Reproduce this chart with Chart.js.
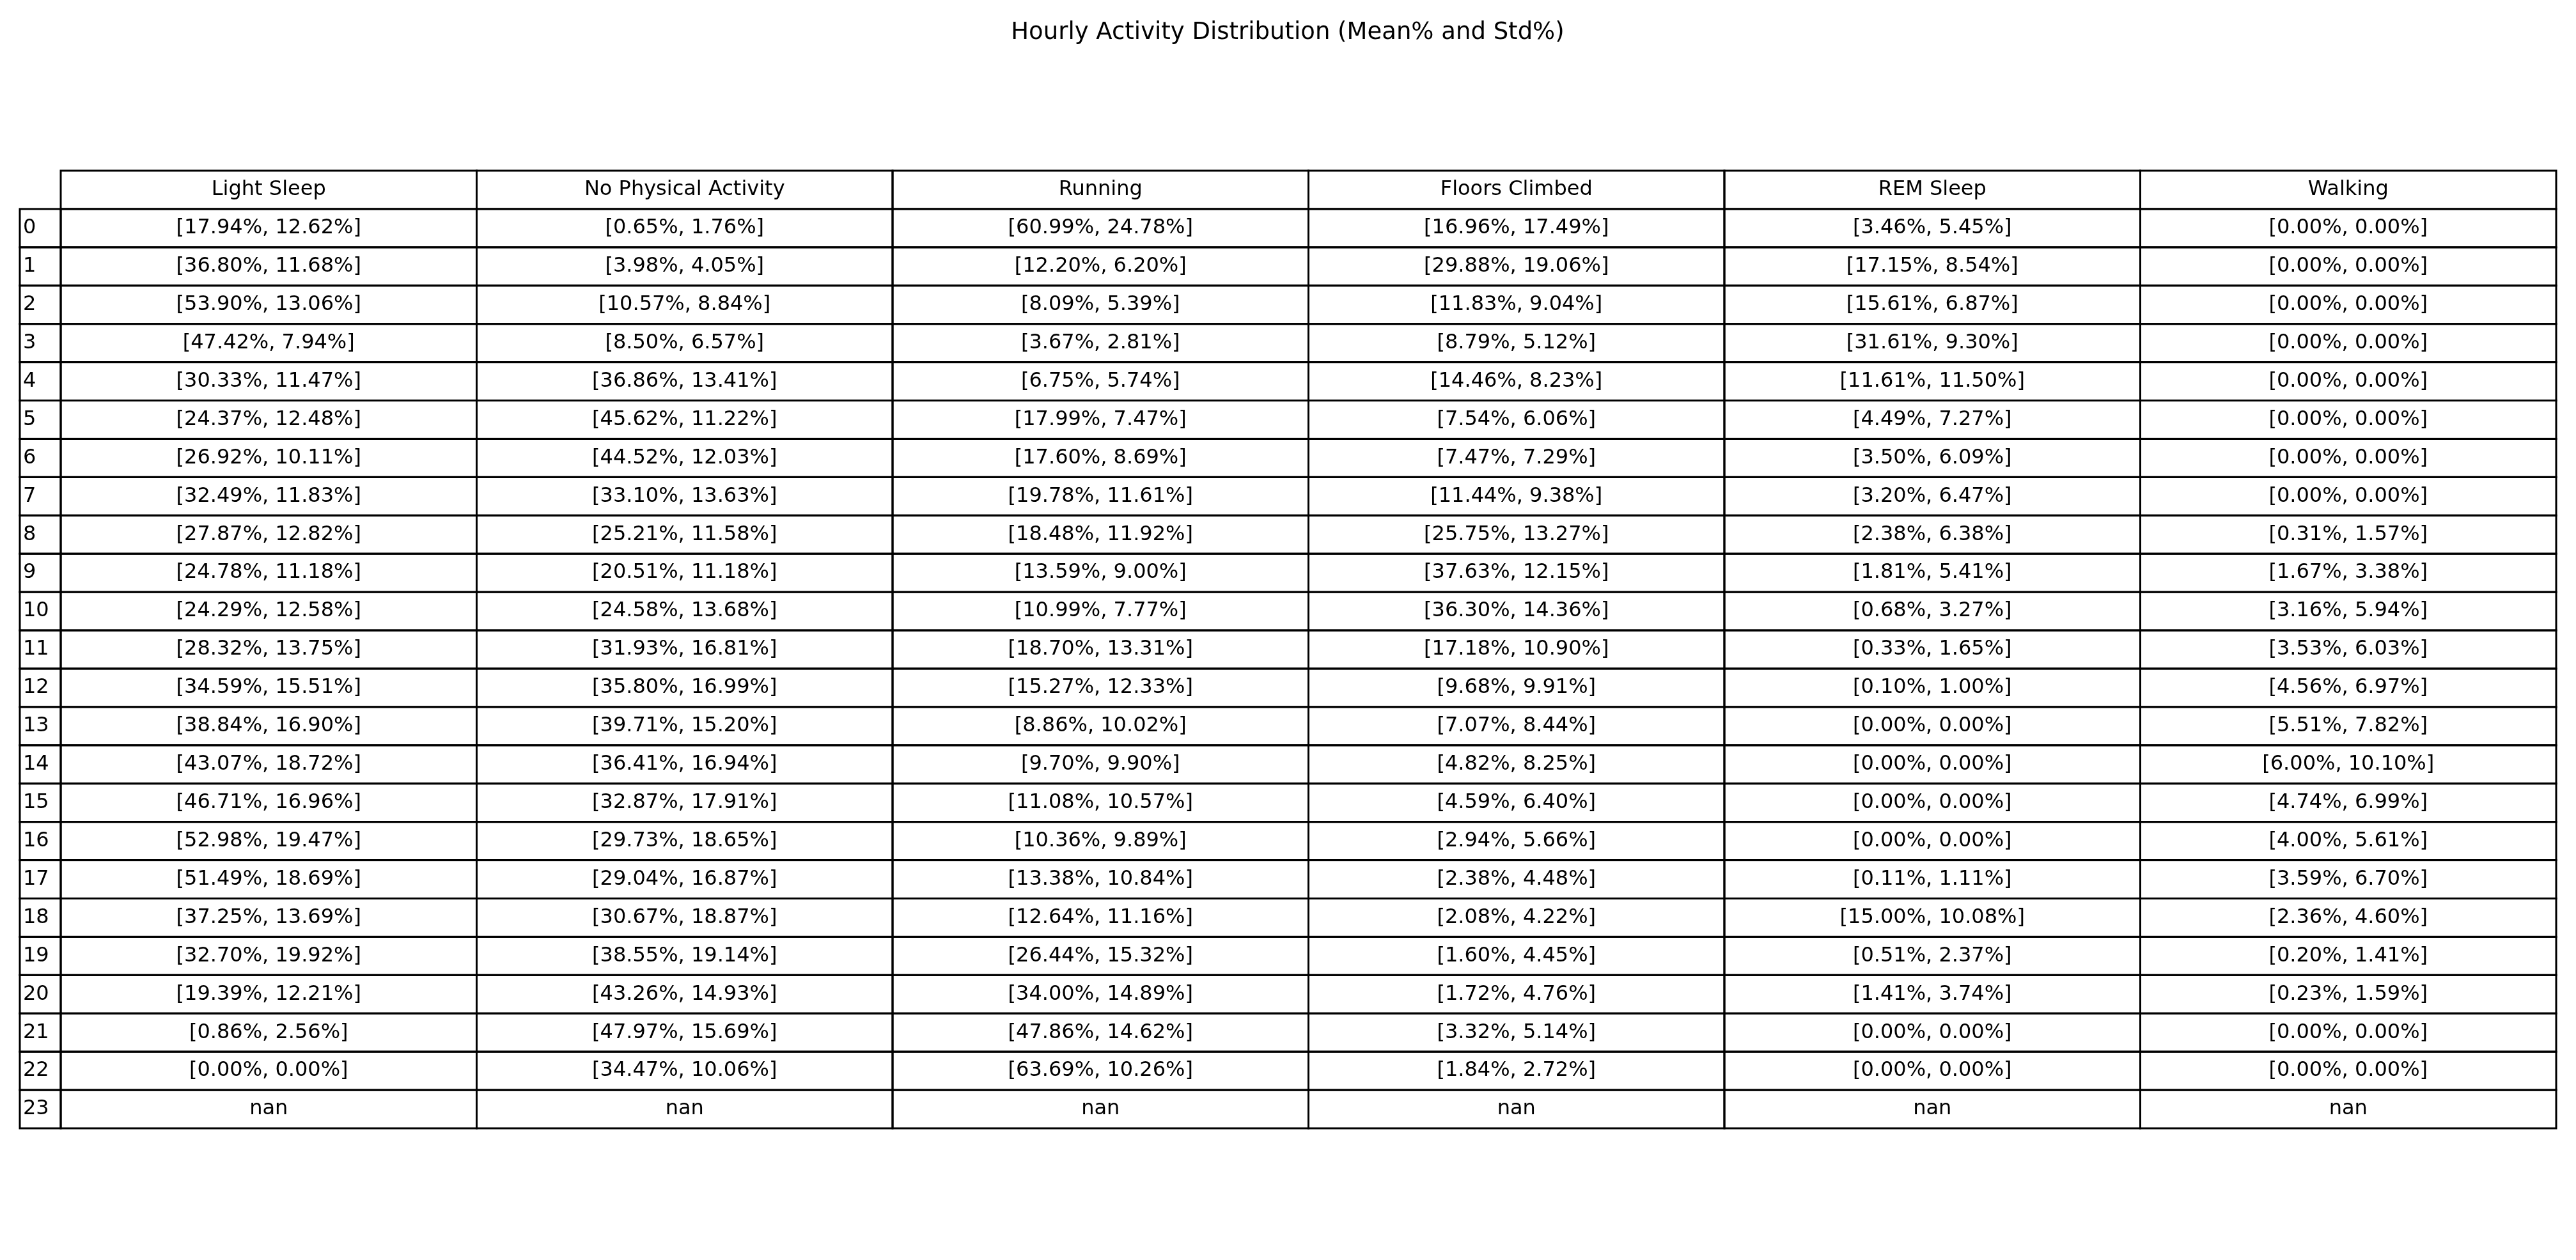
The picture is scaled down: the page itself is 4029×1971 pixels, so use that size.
<!DOCTYPE html>
<html>
<head>
<meta charset="utf-8">
<script src="https://cdn.jsdelivr.net/npm/chart.js@4"></script>
<style>
  html, body { margin: 0; padding: 0; background: #fff; }
  #wrap { width: 4029px; height: 1971px; }
</style>
</head>
<body>
<div id="wrap"><canvas id="table-chart"></canvas></div>
<script>
// columns and hour rows
const columns = ["Light Sleep", "No Physical Activity", "Running", "Floors Climbed", "REM Sleep", "Walking"];
const hours = ["0","1","2","3","4","5","6","7","8","9","10","11","12","13","14","15","16","17","18","19","20","21","22","23"];

// [mean%, std%] per hour, null = nan
const lightSleep = [[17.94,12.62],[36.80,11.68],[53.90,13.06],[47.42,7.94],[30.33,11.47],[24.37,12.48],[26.92,10.11],[32.49,11.83],[27.87,12.82],[24.78,11.18],[24.29,12.58],[28.32,13.75],[34.59,15.51],[38.84,16.90],[43.07,18.72],[46.71,16.96],[52.98,19.47],[51.49,18.69],[37.25,13.69],[32.70,19.92],[19.39,12.21],[0.86,2.56],[0.00,0.00],null];
const noActivity = [[0.65,1.76],[3.98,4.05],[10.57,8.84],[8.50,6.57],[36.86,13.41],[45.62,11.22],[44.52,12.03],[33.10,13.63],[25.21,11.58],[20.51,11.18],[24.58,13.68],[31.93,16.81],[35.80,16.99],[39.71,15.20],[36.41,16.94],[32.87,17.91],[29.73,18.65],[29.04,16.87],[30.67,18.87],[38.55,19.14],[43.26,14.93],[47.97,15.69],[34.47,10.06],null];
const running = [[60.99,24.78],[12.20,6.20],[8.09,5.39],[3.67,2.81],[6.75,5.74],[17.99,7.47],[17.60,8.69],[19.78,11.61],[18.48,11.92],[13.59,9.00],[10.99,7.77],[18.70,13.31],[15.27,12.33],[8.86,10.02],[9.70,9.90],[11.08,10.57],[10.36,9.89],[13.38,10.84],[12.64,11.16],[26.44,15.32],[34.00,14.89],[47.86,14.62],[63.69,10.26],null];
const floorsClimbed = [[16.96,17.49],[29.88,19.06],[11.83,9.04],[8.79,5.12],[14.46,8.23],[7.54,6.06],[7.47,7.29],[11.44,9.38],[25.75,13.27],[37.63,12.15],[36.30,14.36],[17.18,10.90],[9.68,9.91],[7.07,8.44],[4.82,8.25],[4.59,6.40],[2.94,5.66],[2.38,4.48],[2.08,4.22],[1.60,4.45],[1.72,4.76],[3.32,5.14],[1.84,2.72],null];
const remSleep = [[3.46,5.45],[17.15,8.54],[15.61,6.87],[31.61,9.30],[11.61,11.50],[4.49,7.27],[3.50,6.09],[3.20,6.47],[2.38,6.38],[1.81,5.41],[0.68,3.27],[0.33,1.65],[0.10,1.00],[0.00,0.00],[0.00,0.00],[0.00,0.00],[0.00,0.00],[0.11,1.11],[15.00,10.08],[0.51,2.37],[1.41,3.74],[0.00,0.00],[0.00,0.00],null];
const walking = [[0.00,0.00],[0.00,0.00],[0.00,0.00],[0.00,0.00],[0.00,0.00],[0.00,0.00],[0.00,0.00],[0.00,0.00],[0.31,1.57],[1.67,3.38],[3.16,5.94],[3.53,6.03],[4.56,6.97],[5.51,7.82],[6.00,10.10],[4.74,6.99],[4.00,5.61],[3.59,6.70],[2.36,4.60],[0.20,1.41],[0.23,1.59],[0.00,0.00],[0.00,0.00],null];

const series = [lightSleep, noActivity, running, floorsClimbed, remSleep, walking];
const title = "Hourly Activity Distribution (Mean% and Std%)";

function cellText(v) {
  if (!v) return "nan";
  return "[" + v[0].toFixed(2) + "%, " + v[1].toFixed(2) + "%]";
}

// one point per cell, x = column centre, y = row centre
const cellPoints = [];
series.forEach((s, c) => s.forEach((v, r) => cellPoints.push({ x: c + 0.5, y: r + 1.5, t: cellText(v) })));

const tablePlugin = {
  id: 'tablePlugin',
  afterDraw(chart) {
    const ctx = chart.ctx;
    const xs = chart.scales.x, ys = chart.scales.y;
    const labelLeft = 31;
    const left = xs.getPixelForValue(0), right = xs.getPixelForValue(6);
    const top = ys.getPixelForValue(0), bottom = ys.getPixelForValue(25);
    ctx.save();
    ctx.fillStyle = '#000';
    ctx.textBaseline = 'middle';
    ctx.font = '37px "DejaVu Sans"';
    ctx.textAlign = 'center';
    ctx.fillText(title, 2014, 51);

    ctx.strokeStyle = '#000';
    ctx.lineWidth = 3;
    // header cells
    for (let c = 0; c < 6; c++) {
      ctx.strokeRect(xs.getPixelForValue(c), top, xs.getPixelForValue(c + 1) - xs.getPixelForValue(c), ys.getPixelForValue(1) - top);
    }
    // body rows
    for (let r = 1; r < 25; r++) {
      const y0 = ys.getPixelForValue(r), y1 = ys.getPixelForValue(r + 1);
      ctx.strokeRect(labelLeft, y0, left - labelLeft, y1 - y0);
      for (let c = 0; c < 6; c++) {
        ctx.strokeRect(xs.getPixelForValue(c), y0, xs.getPixelForValue(c + 1) - xs.getPixelForValue(c), y1 - y0);
      }
    }
    ctx.font = '32px "DejaVu Sans"';
    ctx.textAlign = 'center';
    columns.forEach((name, c) => ctx.fillText(name, xs.getPixelForValue(c + 0.5), ys.getPixelForValue(0.5)));
    cellPoints.forEach(p => ctx.fillText(p.t, xs.getPixelForValue(p.x), ys.getPixelForValue(p.y)));
    ctx.textAlign = 'left';
    hours.forEach((h, r) => ctx.fillText(h, labelLeft + 5, ys.getPixelForValue(r + 1.5)));
    ctx.restore();
  }
};

new Chart(document.querySelector('#table-chart').getContext('2d'), {
  type: 'scatter',
  data: { datasets: [{ data: cellPoints, pointRadius: 0 }] },
  options: {
    responsive: true,
    maintainAspectRatio: false,
    animation: false,
    layout: { padding: { left: 95, right: 31, top: 267, bottom: 206 } },
    plugins: { legend: { display: false }, tooltip: { enabled: false } },
    scales: {
      x: { type: 'linear', min: 0, max: 6, display: false },
      y: { type: 'linear', min: 0, max: 25, reverse: true, display: false }
    }
  },
  plugins: [tablePlugin]
});
</script>
</body>
</html>
